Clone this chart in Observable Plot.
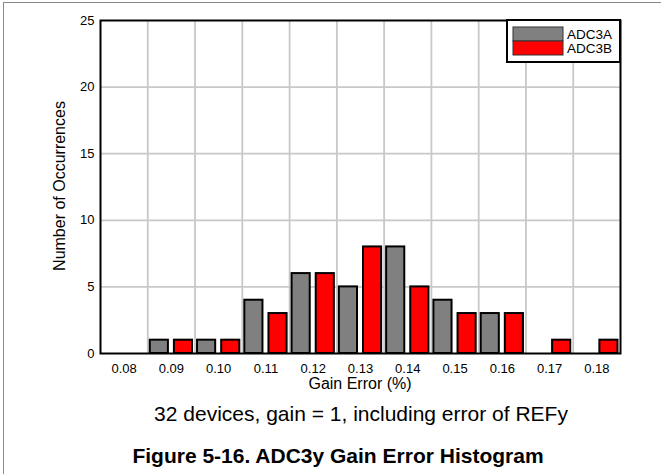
<!DOCTYPE html>
<html>
<head>
<meta charset="utf-8">
<script src="https://cdn.jsdelivr.net/npm/d3@7"></script>
<script src="https://cdn.jsdelivr.net/npm/@observablehq/plot@0.6"></script>
<style>
  html, body { margin: 0; padding: 0; background: #fff; }
  #wrap { position: relative; width: 661px; height: 474px; overflow: hidden; font-family: "Liberation Sans", Arial, sans-serif; background: #fff; }
  #chart { position: absolute; left: 0; top: 0; }
  #notes { position: absolute; left: 0; top: 395px; }
  #border { position: absolute; left: 3px; top: 2px; width: 700px; height: 500px; border-left: 1.5px solid #888; border-top: 1.5px solid #888; z-index: 5; pointer-events: none; }
</style>
</head>
<body>
<div id="wrap">
  <div id="chart"></div>
  <svg id="notes" width="661" height="79"></svg>
  <div id="border"></div>
</div>
<script>
// Data
const gainError = [0.08, 0.09, 0.10, 0.11, 0.12, 0.13, 0.14, 0.15, 0.16, 0.17, 0.18];
const adc3a = [0, 1, 1, 4, 6, 5, 8, 4, 3, 0, 0];
const adc3b = [0, 1, 1, 3, 6, 8, 5, 3, 3, 1, 1];
const seriesNames = ["ADC3A", "ADC3B"];
const seriesColors = ["#808080", "#ff0000"];
const yTicks = [0, 5, 10, 15, 20, 25];
const xLabel = "Gain Error (%)";
const yLabel = "Number of Occurrences";
const captionText = "32 devices, gain = 1, including error of REFy";
const titleText = "Figure 5-16. ADC3y Gain Error Histogram";

const FONT = "Liberation Sans, Arial, sans-serif";
const half = 0.005;
const rowsA = gainError.map((g, i) => ({g, n: adc3a[i]})).filter(d => d.n > 0);
const rowsB = gainError.map((g, i) => ({g, n: adc3b[i]})).filter(d => d.n > 0);
const bounds = gainError.slice(0, -1).map(g => g + half);

const W = 661, H = 395;
const chart = Plot.plot({
  width: W,
  height: H,
  marginLeft: 100,
  marginRight: 41,
  marginTop: 20,
  marginBottom: 42,
  style: { fontFamily: FONT, fontSize: "13px", color: "#000", background: "transparent" },
  x: { type: "linear", domain: [gainError[0] - half, gainError[gainError.length - 1] + half], label: null },
  y: { domain: [0, 25], label: null },
  marks: [
    Plot.ruleY(yTicks.slice(1, -1), { stroke: "#c8c8c8", strokeWidth: 1.8 }),
    Plot.ruleX(bounds, { stroke: "#c8c8c8", strokeWidth: 1.8 }),
    Plot.rectY(rowsA, { x1: d => d.g - half, x2: d => d.g, y1: 0, y2: "n", fill: seriesColors[0], stroke: "#000", strokeWidth: 2, insetLeft: 2.5, insetRight: 3 }),
    Plot.rectY(rowsB, { x1: d => d.g, x2: d => d.g + half, y1: 0, y2: "n", fill: seriesColors[1], stroke: "#000", strokeWidth: 2, insetLeft: 3, insetRight: 2.5 }),
    Plot.axisX(gainError, { tickSize: 0, tickPadding: 10, tickFormat: d3.format(".2f"), label: null, fontSize: 13 }),
    Plot.axisY(yTicks, { tickSize: 0, tickPadding: 6, label: null, fontSize: 13 }),
    Plot.frame({ stroke: "#000", strokeWidth: 2 })
  ]
});
document.getElementById("chart").appendChild(chart);

// axis titles & legend
const svg = d3.select(chart);
svg.append("text").attr("x", 360).attr("y", 389).attr("text-anchor", "middle")
  .style("font-size", "16px").style("font-family", FONT).attr("fill", "#000").text(xLabel);
svg.append("text").attr("transform", "translate(65,186) rotate(-90)").attr("text-anchor", "middle")
  .style("font-size", "16px").style("font-family", FONT).attr("fill", "#000").text(yLabel);

const lg = svg.append("g");
lg.append("rect").attr("x", 507).attr("y", 20).attr("width", 113).attr("height", 42)
  .attr("fill", "#fff").attr("stroke", "#000").attr("stroke-width", 2);
seriesNames.forEach((name, i) => {
  lg.append("rect").attr("x", 513).attr("y", 27 + i * 14).attr("width", 50).attr("height", 14)
    .attr("fill", seriesColors[i]).attr("stroke", "#333").attr("stroke-width", 1);
  lg.append("text").attr("x", 567).attr("y", 39 + i * 13.5).attr("text-anchor", "start")
    .style("font-size", "13.5px").style("font-family", FONT).attr("fill", "#000").text(name);
});

// caption and figure title below the chart
const notes = d3.select("#notes");
notes.append("text").attr("x", 361).attr("y", 26).attr("text-anchor", "middle")
  .style("font-size", "21px").style("font-family", FONT).attr("fill", "#000").text(captionText);
notes.append("text").attr("x", 338).attr("y", 67.5).attr("text-anchor", "middle")
  .style("font-size", "21px").style("font-weight", "bold").style("font-family", FONT).attr("fill", "#000").text(titleText);
</script>
</body>
</html>
